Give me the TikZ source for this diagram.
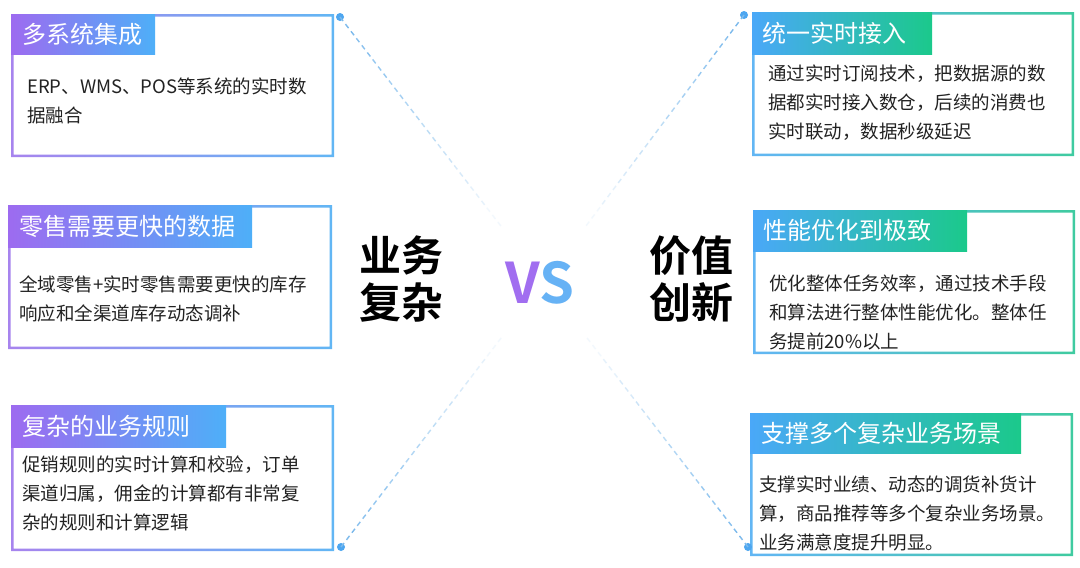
\documentclass[tikz,border=0pt]{standalone}
\usepackage{fontspec}
\setmainfont{Noto Sans CJK SC}[BoldFont={Noto Sans CJK SC Bold}]
\usetikzlibrary{calc}

\definecolor{lpurple}{HTML}{9D6BF0}
\definecolor{lblue}{HTML}{4EAFF8}
\definecolor{bpurple}{HTML}{A784EE}
\definecolor{bblue}{HTML}{62B6F4}
\definecolor{rblue}{HTML}{4AA8F8}
\definecolor{rgreen}{HTML}{1BC98B}
\definecolor{bgreen}{HTML}{3FCBA0}
\definecolor{dotblue}{HTML}{4DA6F0}
\definecolor{dashblue}{HTML}{7DBAEC}
\definecolor{vspurple}{HTML}{A16EF0}
\definecolor{vsblue}{HTML}{66B2F5}
\definecolor{txt}{HTML}{222222}

\begin{document}
\begin{tikzpicture}[x=1pt, y=-1pt,
  title/.style={text=white, anchor=west, inner sep=0pt, font=\fontsize{24}{28}\selectfont},
  body/.style={text=txt, anchor=north west, align=left, inner sep=0pt, font=\fontsize{18.5}{29}\selectfont},
  big/.style={text=black, align=center, inner sep=0pt, font=\bfseries\fontsize{42}{47}\selectfont},
  dot/.style={circle, fill=dotblue, inner sep=0pt, minimum size=8pt},
  dline/.style={line width=1.4pt, dash pattern=on 5pt off 4pt}]
\useasboundingbox (0,0) rectangle (1080,568);
\fill[white] (0,0) rectangle (1080,568);

% left boxes
\shade[left color=bpurple, right color=bblue, even odd rule] (11,14) rectangle (334,157) (13.5,16.5) rectangle (331.5,154.5);
\shade[left color=lpurple, right color=lblue] (11,14) rectangle (155,54);
\node (t1)[title] at (22,34) {多系统集成};
\node (b1)[body] at (27,77.5) {ERP、WMS、POS等系统的实时数\\据融合};

\shade[left color=bpurple, right color=bblue, even odd rule] (8,205) rectangle (332,349) (10.5,207.5) rectangle (329.5,346.5);
\shade[left color=lpurple, right color=lblue] (8,205) rectangle (252,247);
\node (t2)[title] at (19,226) {零售需要更快的数据};
\node (b2)[body] at (19,275.5) {全域零售+实时零售需要更快的库存\\响应和全渠道库存动态调补};

\shade[left color=bpurple, right color=bblue, even odd rule] (11,405) rectangle (334,551) (13.5,407.5) rectangle (331.5,548.5);
\shade[left color=lpurple, right color=lblue] (11,405) rectangle (226,447);
\node (t3)[title] at (22,426) {复杂的业务规则};
\node (b3)[body] at (22,455.5) {促销规则的实时计算和校验，订单\\渠道归属，佣金的计算都有非常复\\杂的规则和计算逻辑};

% right boxes
\shade[left color=bblue, right color=bgreen, even odd rule] (752,12) rectangle (1074,156) (754.5,14.5) rectangle (1071.5,153.5);
\shade[left color=rblue, right color=rgreen] (752,12) rectangle (932,54);
\node (t4)[title] at (762,33) {统一实时接入};
\node (b4)[body] at (768,64.5) {通过实时订阅技术，把数据源的数\\据都实时接入数仓，后续的消费也\\实时联动，数据秒级延迟};

\shade[left color=bblue, right color=bgreen, even odd rule] (753,210) rectangle (1075,354) (755.5,212.5) rectangle (1072.5,351.5);
\shade[left color=rblue, right color=rgreen] (753,210) rectangle (967,251);
\node (t5)[title] at (763,230) {性能优化到极致};
\node (b5)[body] at (769,274.5) {优化整体任务效率，通过技术手段\\和算法进行整体性能优化。整体任\\务提前20\%以上};

\shade[left color=bblue, right color=bgreen, even odd rule] (750,413) rectangle (1073,556) (752.5,415.5) rectangle (1070.5,553.5);
\shade[left color=rblue, right color=rgreen] (750,413) rectangle (1021,453);
\node (t6)[title] at (761,433) {支撑多个复杂业务场景};
\node (b6)[body] at (759,475.5) {支撑实时业绩、动态的调货补货计\\算，商品推荐等多个复杂业务场景。\\业务满意度提升明显。};

% dashed lines fading to the middle
\coordinate (c) at (544,282);
\node (d1)[dot] at (340,17) {};
\node (d2)[dot] at (341,547) {};
\node (d3)[dot] at (744,15) {};
\node (d4)[dot] at (748,547) {};
\foreach \dn in {d1,d2,d3,d4}{
  \foreach \i in {0,...,9}{
    \pgfmathtruncatemacro{\pc}{100-\i*10}
    \draw[dline, draw=dashblue!\pc!white] ($(\dn.center)!\i*0.08!(c)$) -- ($(\dn.center)!\i*0.08+0.08!(c)$);
  }
}

% middle
\node (left)[big] at (401,279) {业务\\复杂};
\node (right)[big] at (691,279) {价值\\创新};
\node (vs)[inner sep=0pt, font=\bfseries\fontsize{56}{56}\selectfont] at (540,283) {\textcolor{vspurple}{V}\textcolor{vsblue}{S}};
\end{tikzpicture}
\end{document}
